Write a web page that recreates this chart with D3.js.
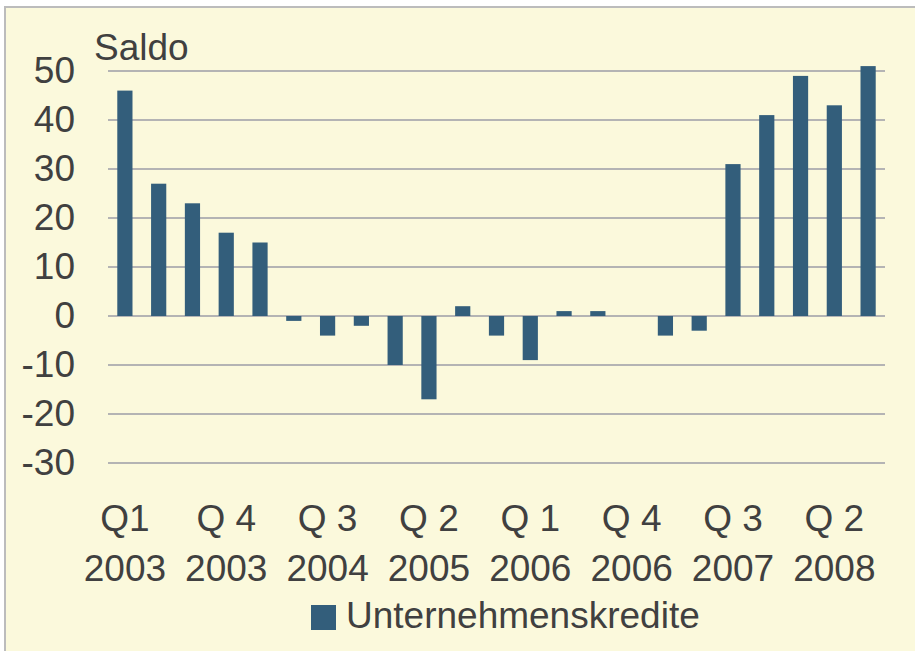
<!DOCTYPE html>
<html>
<head>
<meta charset="utf-8">
<script src="https://cdn.jsdelivr.net/npm/d3@7"></script>
<style>
  body { margin:0; background:#fff; }
  text { font-family: "Liberation Sans", Arial, sans-serif; fill:#404040; }
</style>
</head>
<body>
<div id="chart"></div>
<script>
// quarters Q1 2003 .. Q3 2008
var quarters = ["Q1 2003","Q2 2003","Q3 2003","Q4 2003","Q1 2004","Q2 2004","Q3 2004","Q4 2004",
    "Q1 2005","Q2 2005","Q3 2005","Q4 2005","Q1 2006","Q2 2006","Q3 2006","Q4 2006",
    "Q1 2007","Q2 2007","Q3 2007","Q4 2007","Q1 2008","Q2 2008","Q3 2008"];
var kredite = [46,27,23,17,15,-1,-4,-2,-10,-17,2,-4,-9,1,1,0,-4,-3,31,41,49,43,51];
// every third quarter gets a label, two lines
var tickQuarters = ["Q1 2003","Q4 2003","Q3 2004","Q2 2005","Q1 2006","Q4 2006","Q3 2007","Q2 2008"];
var tickLine1 = ["Q1","Q 4","Q 3","Q 2","Q 1","Q 4","Q 3","Q 2"];
var tickLine2 = ["2003","2003","2004","2005","2006","2006","2007","2008"];
var yTicks = [-30,-20,-10,0,10,20,30,40,50];
var seriesName = "Unternehmenskredite";

function draw() {
    var width=915, height=651;
    var barColor="#335e7b";
    var svg=d3.select("#chart").append("svg")
        .attr("width",width)
        .attr("height",height);

    // frame, cut off at right and bottom
    svg.append("rect")
        .attr("x",5).attr("y",7)
        .attr("width",width+20).attr("height",height+20)
        .attr("fill","#fbf9dc")
        .attr("stroke","#bcbcbc")
        .attr("stroke-width",2);

    var x=d3.scaleBand()
        .domain(quarters)
        .range([108,885])
        .paddingInner(0.55)
        .paddingOuter(0.275);

    var y=d3.scaleLinear()
        .domain([-30,50])
        .range([463,71]);

    // gridlines
    svg.append("g").selectAll("line")
        .data(yTicks)
        .enter()
        .append("line")
        .attr("x1",108).attr("x2",885)
        .attr("y1",function(d) { return y(d); })
        .attr("y2",function(d) { return y(d); })
        .attr("stroke","#b4b4b4")
        .attr("stroke-width",2);

    // y labels
    svg.append("g").selectAll("text")
        .data(yTicks)
        .enter()
        .append("text")
        .attr("x",75)
        .attr("y",function(d) { return y(d); })
        .attr("dy","0.33em")
        .attr("text-anchor","end")
        .style("font-size","37px")
        .text(function(d) { return d; });

    svg.append("text")
        .attr("x",94).attr("y",60)
        .style("font-size","37px")
        .text("Saldo");

    // bars
    svg.append("g").selectAll("rect")
        .data(kredite)
        .enter()
        .append("rect")
        .attr("x",function(d,i) { return x(quarters[i]); })
        .attr("width",x.bandwidth())
        .attr("y",function(d) { return y(Math.max(0,d)); })
        .attr("height",function(d) { return Math.abs(y(d)-y(0)); })
        .attr("fill",barColor);

    // x labels
    var xl=svg.append("g").selectAll("g")
        .data(tickQuarters)
        .enter()
        .append("g")
        .attr("transform",function(d) { return "translate("+(x(d)+x.bandwidth()/2)+",0)"; });
    xl.append("text")
        .attr("y",531)
        .attr("text-anchor","middle")
        .style("font-size","37px")
        .text(function(d,i) { return tickLine1[i]; });
    xl.append("text")
        .attr("y",581)
        .attr("text-anchor","middle")
        .style("font-size","37px")
        .text(function(d,i) { return tickLine2[i]; });

    // legend
    svg.append("rect")
        .attr("x",311).attr("y",605)
        .attr("width",25).attr("height",25)
        .attr("fill",barColor);
    svg.append("text")
        .attr("x",346).attr("y",628)
        .style("font-size","37px")
        .text(seriesName);
}

document.body.onload=function() {
    draw();
}
</script>
</body>
</html>
